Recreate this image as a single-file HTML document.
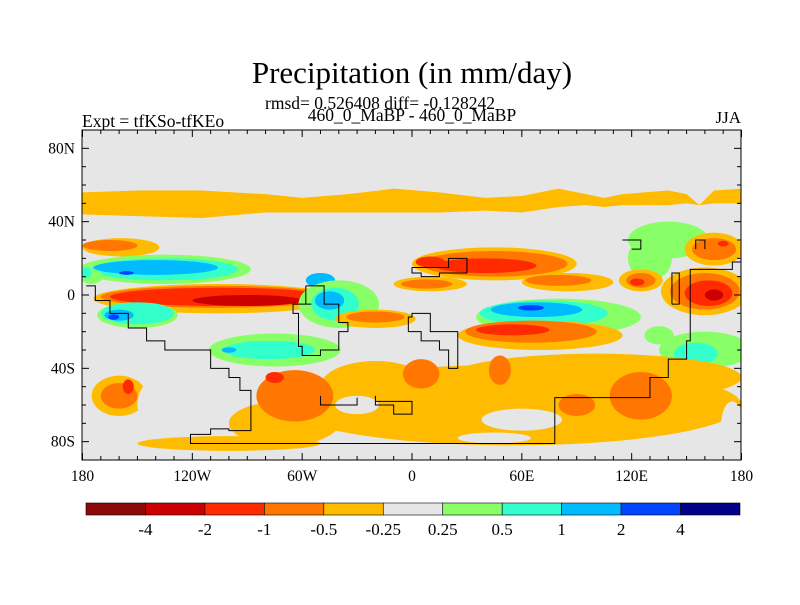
<!DOCTYPE html>
<html><head><meta charset="utf-8">
<style>
body{margin:0;background:#fff}
svg text{font-family:"Liberation Serif",serif;fill:#000}
</style></head>
<body>
<svg id="chart" width="800" height="600" viewBox="0 0 800 600">
<rect width="800" height="600" fill="#fff"/>
<text x="412" y="83" font-size="31" text-anchor="middle">Precipitation (in mm/day)</text>
<text x="380" y="109" font-size="17.5" text-anchor="middle">rmsd= 0.526408 diff= -0.128242</text>
<text x="412" y="121" font-size="17.5" text-anchor="middle">460_0_MaBP - 460_0_MaBP</text>
<text x="82" y="127" font-size="17.5">Expt = tfKSo-tfKEo</text>
<text x="741" y="123" font-size="17" text-anchor="end">JJA</text>
<defs><clipPath id="pc"><rect x="82" y="130" width="659" height="330"/></clipPath></defs>
<g id="plot" clip-path="url(#pc)"></g>
<g id="axes"></g>
<g id="cbar"></g>
</svg>
<script>
const colors=["#8C0A0A","#CC0000","#FF2A00","#FF7700","#FFBB00","#E6E6E6","#88FF66","#33FFCC","#00BBFF","#0044FF","#000088"];
const cbarLabels=["-4","-2","-1","-0.5","-0.25","0.25","0.5","1","2","4"];
const bandLon=[-180,-150,-115,-80,-60,-35,-10,15,40,60,80,95,105,115,140,150,157,165,180];
const bandTop=[56,57,57,55,53,55,58,56,53,54,58,55,53,55,57,55,49,57,58];
const bandBot=[44,43,42,45,45,45,45,45,46,45,48,49,48,49,49,50,49,50,50];
// blobs: [lon, lat, rlon, rlat, colorIndex]
const blobs=[
[-159,26,21,5,4],[-165,27,15,3,3],
[-135,14,47,8,6],[-135,14,40,6,7],[-140,15,34,4,8],[-156,12,4,1,9],
[-50,8,8,4,8],
[-106,-2,68,8,4],[-106,-1,64,6,3],[-105,-1,60,5,2],[-90,-3,30,3,1],
[-150,-11,22,7,6],[-150,-10,20,6,7],[-160,-11,8,3,8],[-163,-12,3,1.5,9],
[-40,-5,22,13,6],[-42,-5,13,9,7],[-45,-3,8,5,8],
[-20,-13,22,5,4],[-20,-12,16,3,3],
[10,6,20,4,4],[8,6,14,2.5,3],
[45,17,45,9,4],[45,17,40,7,3],[40,16,28,4,2],[10,18,8,3,2],
[85,7,25,5,4],[80,8,18,3,3],
[140,30,22,10,6],[130,20,12,12,6],
[125,8,12,6,4],[125,8,8,4,3],[123,7,4,2,2],
[80,-12,45,10,6],[72,-10,35,7,7],[68,-8,25,4,8],[65,-7,7,1.5,9],
[70,-22,45,8,4],[65,-20,36,6,3],[55,-19,20,3,2],
[160,2,24,13,4],[160,2,19,10,3],[162,1,13,7,2],[165,0,5,3,1],
[165,25,16,9,4],[165,25,12,6,3],[170,28,3,1.5,2],
[-175,10,6,4,6],[-178,12,3,3,7],
[-75,-30,36,9,6],[-78,-30,25,5,7],[-100,-30,4,1.5,8],
[160,-30,25,10,6],[155,-32,12,6,7],[135,-22,8,5,6],
[-100,-81,50,4,4],[55,-60,125,22,4],[-20,-50,30,14,4],[100,-45,80,13,4],[-70,-70,30,12,4],
[-160,-55,15,11,4],[-160,-55,10,7,3],[-155,-50,3,4,2],
[-64,-55,21,14,3],[-75,-45,5,3,2],
[-30,-60,12,5,5],[5,-43,10,8,3],[48,-41,6,8,3],[90,-60,10,6,3],[125,-55,17,13,3],
[60,-68,22,6,5],[45,-78,20,3,5],[175,-70,6,12,5],[-140,-60,10,14,5],[-115,-62,14,10,5],[-125,-45,20,10,5],
[-100,-50,7,5,5]
];
const outlines=[
[[-178,5],[-173,-3],[-165,-10],[-155,-18],[-145,-25],[-135,-30],[-120,-30],[-110,-40],[-100,-45],[-94,-52],[-88,-62],[-88,-74],[-100,-73],[-110,-76],[-121,-76],[-121,-81],[78,-81],[78,-56],[116,-56],[130,-45],[140,-35],[150,-25],[152,-19],[152,14],[165,14],[175,18],[180,15]],
[[-58,5],[-50,5],[-48,-5],[-40,-15],[-35,-20],[-40,-30],[-50,-33],[-60,-28],[-62,-10],[-65,-5],[-55,-5],[-58,5]],
[[-2,-20],[5,-25],[15,-30],[20,-40],[25,-30],[25,-20],[15,-20],[10,-10],[0,-12],[-2,-20]],
[[0,15],[20,15],[20,20],[30,20],[30,12],[15,10],[5,12],[0,15]],
[[115,30],[125,30],[125,25],[120,25]],
[[142,-5],[142,12],[146,12],[146,-5],[142,-5]],
[[155,25],[155,30],[160,30],[160,25]],
[[-20,-55],[-20,-60],[-10,-60],[-10,-65],[0,-58],[-20,-55]],
[[-50,-55],[-50,-60],[-30,-60],[-30,-56]]
];
const NS="http://www.w3.org/2000/svg";
const X=lon=>412+lon*659/360, Y=lat=>295-lat*330/180;
const sx=r=>r*659/360, sy=r=>r*330/180;
const plot=document.getElementById('plot');
function mk(tag,attrs,parent){const e=document.createElementNS(NS,tag);for(const k in attrs)e.setAttribute(k,attrs[k]);parent.appendChild(e);return e;}
const bg=mk('rect',{x:82,y:130,width:659,height:330,fill:colors[5]},plot);


let d="M"+bandLon.map((l,i)=>X(l)+","+Y(bandTop[i])).join(" L");
for(let i=bandLon.length-1;i>=0;i--)d+=" L"+X(bandLon[i])+","+Y(bandBot[i]);
const band=mk('path',{d:d+"Z",fill:colors[4]},plot);


blobs.forEach(b=>{
 const e=mk('ellipse',{cx:X(b[0]),cy:Y(b[1]),rx:sx(b[2]),ry:sy(b[3]),fill:colors[b[4]]},plot);
 
 
});
outlines.forEach(o=>{
 let p="";o.forEach((pt,i)=>{const x=X(pt[0]),y=Y(pt[1]);if(i==0)p+="M"+x+","+y;else{p+=" L"+x+","+Y(o[i-1][1])+" L"+x+","+y;}});
 const e=mk('path',{d:p,fill:"none",stroke:"#000","stroke-width":1},plot);
 
 
});
const ax=document.getElementById('axes');
const fr=mk('rect',{x:82,y:130,width:659,height:330,fill:"none",stroke:"#000","stroke-width":1},ax);


for(let lon=-180;lon<=180;lon+=10){const maj=lon%60==0,l=maj?7:4;
 mk('line',{x1:X(lon),x2:X(lon),y1:130,y2:130+l,stroke:"#000"},ax);
 mk('line',{x1:X(lon),x2:X(lon),y1:460,y2:460-l,stroke:"#000"},ax);}
for(let lat=-80;lat<=80;lat+=10){const maj=lat%40==0,l=maj?7:4;
 mk('line',{x1:82,x2:82+l,y1:Y(lat),y2:Y(lat),stroke:"#000"},ax);
 mk('line',{x1:741,x2:741-l,y1:Y(lat),y2:Y(lat),stroke:"#000"},ax);}
const lonLabels=["180","120W","60W","0","60E","120E","180"];
const latLabels=["80S","40S","0","40N","80N"];
lonLabels.forEach((t,i)=>{const e=mk('text',{x:X(-180+60*i),y:481,"font-size":15.5,"text-anchor":"middle"},ax);e.textContent=t;
 
 });
latLabels.forEach((t,i)=>{const e=mk('text',{x:75,y:Y(-80+40*i)+5,"font-size":15.5,"text-anchor":"end"},ax);e.textContent=t;
 
 });
const cb=document.getElementById('cbar');
const w=(740-86)/11;
colors.forEach((c,i)=>{const r=mk('rect',{x:86+i*w,y:503,width:w,height:12,fill:c,stroke:"#000","stroke-width":0.6},cb);
 
 });
cbarLabels.forEach((t,i)=>{const e=mk('text',{x:86+(i+1)*w,y:535,"font-size":17,"text-anchor":"middle"},cb);e.textContent=t;
 
 });
</script>
</body></html>
